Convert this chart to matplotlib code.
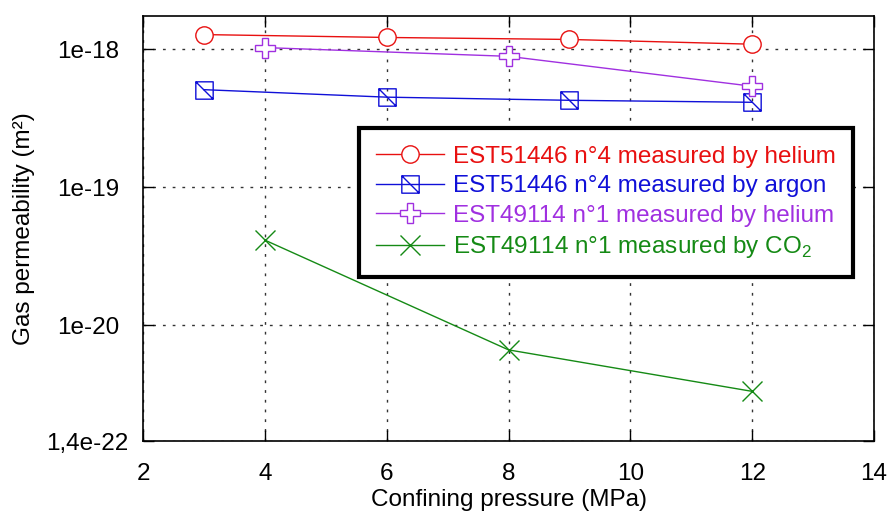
import numpy as np
import matplotlib
matplotlib.use("Agg")
import matplotlib.pyplot as plt
import matplotlib.transforms as mtransforms
from matplotlib.path import Path

plt.rcParams['font.family'] = ['Liberation Sans', 'DejaVu Sans']
plt.rcParams['mathtext.fontset'] = 'custom'
plt.rcParams['mathtext.rm'] = 'Liberation Sans'

# data
x_he4 = [3, 6, 9, 12]
k_he4 = [1.28e-18, 1.22e-18, 1.18e-18, 1.09e-18]

x_ar4 = [3, 6, 9, 12]
k_ar4 = [5.1e-19, 4.5e-19, 4.27e-19, 4.13e-19]

x_he1 = [4, 8, 12]
k_he1 = [1.03e-18, 8.9e-19, 5.4e-19]

x_co2 = [4, 8, 12]
k_co2 = [4.13e-20, 6.6e-21, 3.3e-21]

labels = ['EST51446 n°4 measured by helium',
          'EST51446 n°4 measured by argon',
          'EST49114 n°1 measured by helium',
          r'EST49114 n°1 measured by CO$_\mathregular{2}$']

ytick_vals = [1.44e-21, 1e-20, 1e-19, 1e-18]
ytick_labels = ['1,4e-22', '1e-20', '1e-19', '1e-18']
xtick_vals = [2, 4, 6, 8, 10, 12, 14]

# square with a diagonal
sq_diag = Path([(-1, -1), (1, -1), (1, 1), (-1, 1), (-1, -1), (-1, 1), (1, -1)],
               [Path.MOVETO, Path.LINETO, Path.LINETO, Path.LINETO, Path.CLOSEPOLY,
                Path.MOVETO, Path.LINETO])

fig = plt.figure(figsize=(8.89, 5.14), dpi=100)
ax = fig.add_axes([0.1609, 0.142, 0.8223, 0.8278])

red = '#e81010'
blue = '#1010d8'
purple = '#a030e0'
green = '#158a15'

ax.plot(x_he4, k_he4, color=red, lw=1, marker='o', ms=12.5, mfc='white',
        mec=red, mew=1, label=labels[0])
ax.plot(x_ar4, k_ar4, color=blue, lw=1, marker=sq_diag, ms=12.5, mfc='none',
        mec=blue, mew=1, label=labels[1])
ax.plot(x_he1, k_he1, color=purple, lw=1, marker='P', ms=14, mfc='white',
        mec=purple, mew=1, label=labels[2])
ax.plot(x_co2, k_co2, color=green, lw=1, marker='x', ms=15, mec=green,
        mew=1, label=labels[3])

ax.set_yscale('log')
ax.set_xlim(2, 14)
ax.set_ylim(1.44e-21, 1.76e-18)
ax.set_xticks(xtick_vals)
ax.set_yticks(ytick_vals)
ax.set_yticklabels(ytick_labels)
ax.yaxis.set_minor_locator(matplotlib.ticker.NullLocator())

ax.tick_params(direction='in', length=8, width=1, top=True, right=True,
               labelsize=17.5)
ax.tick_params(axis='x', pad=16)
ax.tick_params(axis='y', pad=17)
# bottom label sits a little further right in the original
lab0 = ax.get_yticklabels()[0]
lab0.set_transform(lab0.get_transform() +
                   mtransforms.ScaledTranslation(0.09, 0, fig.dpi_scale_trans))

ax.grid(True, which='major', color='#333333', linestyle=(0, (2, 5)), lw=1)
for s in ax.spines.values():
    s.set_linewidth(1.2)

ax.set_xlabel('Confining pressure (MPa)', fontsize=17.5, labelpad=3)
ax.set_ylabel('Gas permeability (m²)', fontsize=17.5, labelpad=8)

leg = ax.legend(loc='upper left', bbox_to_anchor=(0.2955, 0.7345), borderaxespad=0,
                fontsize=17.5, frameon=True, fancybox=False, framealpha=1,
                handlelength=2.8, handletextpad=0.35, labelspacing=0.31,
                borderpad=0.7)
leg.get_frame().set_edgecolor('black')
leg.get_frame().set_linewidth(3)
for t, c in zip(leg.get_texts(), [red, blue, purple, green]):
    t.set_color(c)

fig.savefig('out.png', dpi=100)
